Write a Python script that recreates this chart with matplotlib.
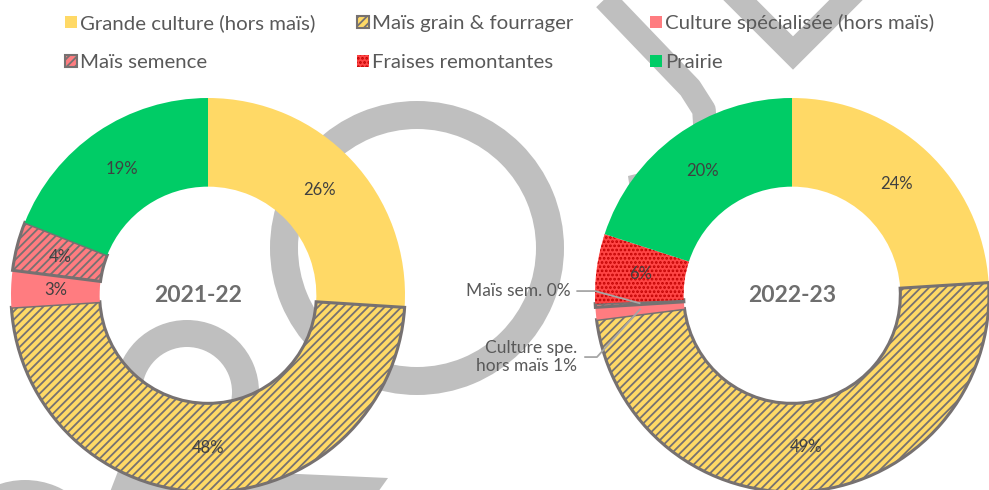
import numpy as np
import matplotlib
matplotlib.use("Agg")
import matplotlib.pyplot as plt
from matplotlib.patches import Rectangle, Wedge, Polygon

plt.rcParams['font.family'] = ['Lato', 'DejaVu Sans']
plt.rcParams['hatch.linewidth'] = 1.3

# surfaces par type de culture (%)
categories = ["Grande culture (hors maïs)", "Maïs grain & fourrager",
              "Culture spécialisée (hors maïs)", "Maïs semence",
              "Fraises remontantes", "Prairie"]
campagnes = ["2021-22", "2022-23"]
parts_2021 = [26, 48, 3, 4, 0, 19]
parts_2022 = [24, 49, 1, 0.3, 5.7, 20]

colors = ["#FFD966", "#FFD966", "#FF7C80", "#FF7C80", "#FF4545", "#00CC66"]
hatches = [None, "////", None, "////", "....", None]
edges = [None, "#767171", None, "#767171", "#C00000", None]
edge_lw = [0, 2.2, 0, 2.2, 0, 0]

grey_txt = "#595959"
wm = "#BFBFBF"

W, H = 989, 490
fig = plt.figure(figsize=(W / 100, H / 100), dpi=100)

# background layer in pixel coordinates (logo watermark + legend)
bg = fig.add_axes([0, 0, 1, 1], zorder=0)
bg.set_xlim(0, W)
bg.set_ylim(H, 0)
bg.axis("off")

bg.add_patch(Wedge((417, 248), 147, 0, 360, width=28, color=wm, lw=0))
bg.add_patch(Wedge((187, 392), 72, 0, 360, width=27, color=wm, lw=0))
bg.add_patch(Wedge((25, 560), 80, 0, 360, width=27, color=wm, lw=0))
bg.plot([598, 690, 704, 707], [-8, 88, 110, 160], color=wm, lw=17,
        solid_joinstyle="round", solid_capstyle="butt")
bg.plot([727, 793, 859], [-13, 53, -13], color=wm, lw=17, solid_joinstyle="miter")
bg.add_patch(Polygon([(628, 176), (660, 168), (660, 210), (633, 210)], color=wm, lw=0))
bg.add_patch(Polygon([(110, 492), (120, 466), (388, 478), (378, 492)], color=wm, lw=0))

# legend
leg_cols = [65, 357, 650]
leg_rows = [22, 61]
for i, lab in enumerate(categories):
    x = leg_cols[i % 3]
    y = leg_rows[i // 3]
    ec = edges[i] if edges[i] else colors[i]
    bg.add_patch(Rectangle((x, y - 6), 12, 12, facecolor=colors[i],
                           edgecolor=ec, hatch=hatches[i],
                           lw=1.5 if edge_lw[i] else 0, zorder=3))
    bg.text(x + 15, y + 1, lab, fontsize=14.7, color=grey_txt, va="center",
            ha="left", zorder=3)


def donut(cx, values, title, title_dx=0.0):
    r_px = 197
    ax = fig.add_axes([(cx - r_px) / W, (H - 295 - r_px) / H,
                       2 * r_px / W, 2 * r_px / H], zorder=1)
    ax.patch.set_alpha(0)
    wedges, _ = ax.pie(values, startangle=90, counterclock=False, radius=1,
                       colors=colors, wedgeprops=dict(width=0.45))
    for w, h, e, lw in zip(wedges, hatches, edges, edge_lw):
        if h:
            w.set_hatch(h)
        if e:
            w.set_edgecolor(e)
        w.set_linewidth(lw)
    ax.set_xlim(-1, 1)
    ax.set_ylim(-1, 1)
    ax.axis("off")

    total = sum(values)
    cum = np.cumsum([0] + list(values))
    mids = []
    for k, v in enumerate(values):
        frac = (cum[k] + v / 2) / total
        ang = np.deg2rad(90 - frac * 360)
        mids.append((0.775 * np.cos(ang), 0.775 * np.sin(ang)))
    ax.text(title_dx, 0, title, ha="center", va="center", fontsize=16.5,
            fontweight="bold", color="#6E6E6E")
    return ax, mids, total


ax1, mids1, tot1 = donut(208, parts_2021, campagnes[0], title_dx=-0.05)
for k, v in enumerate(parts_2021):
    if v > 0:
        ax1.text(*mids1[k], f"{round(v / tot1 * 100)}%", ha="center",
                 va="center", fontsize=12, color="#404040")

ax2, mids2, tot2 = donut(792, parts_2022, campagnes[1])
for k, v in enumerate(parts_2022):
    if k in (2, 3):
        continue
    ax2.text(*mids2[k], f"{round(v / tot2 * 100)}%", ha="center",
             va="center", fontsize=12, color="#404040")

# small slices labelled outside with leader lines
lead = "#A6A6A6"
mx, my = mids2[3]
ax2.plot([-1.09, -1.0, mx], [0.02, 0.02, my], color=lead, lw=1.3, clip_on=False)
ax2.text(-1.125, 0.02, f"Maïs sem. {round(parts_2022[3] / tot2 * 100)}%",
         ha="right", va="center", fontsize=12.5, color=grey_txt)
cx_, cy_ = mids2[2]
ax2.plot([-1.05, -0.99, cx_], [-0.315, -0.315, cy_], color=lead, lw=1.3,
         clip_on=False)
ax2.text(-1.09, -0.315, f"Culture spe.\nhors maïs {round(parts_2022[2] / tot2 * 100)}%",
         ha="right", va="center", fontsize=12.5, color=grey_txt,
         multialignment="right", linespacing=1.15)

fig.savefig("out.png", dpi=100, facecolor="white")
